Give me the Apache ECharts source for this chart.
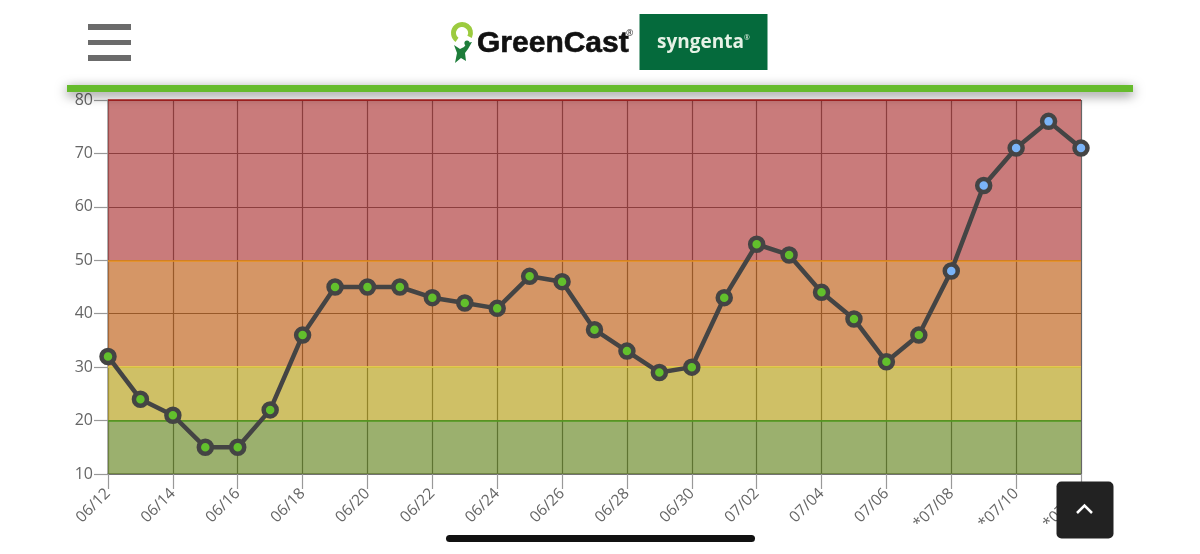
<!DOCTYPE html>
<html>
<head>
<meta charset="utf-8">
<style>html,body{margin:0;padding:0;background:#fff}#c{width:1200px;height:554px}</style>
<script src="https://cdn.jsdelivr.net/npm/echarts@6/dist/echarts.min.js"></script>
</head>
<body>
<div id="c"></div>
<script>
const categories = ['06/12','06/13','06/14','06/15','06/16','06/17','06/18','06/19','06/20','06/21','06/22','06/23','06/24','06/25','06/26','06/27','06/28','06/29','06/30','07/01','07/02','07/03','07/04','07/05','07/06','07/07','*07/08','*07/09','*07/10','*07/11','*07/12'];
const values = [32,24,21,15,15,22,36,45,45,45,43,42,41,47,46,37,33,29,30,43,53,51,44,39,31,36,48,64,71,76,71];
const bandEdges = [10,20,30,50,80];
const bandFills = ['rgba(88,123,13,0.6)','rgba(175,150,0,0.6)','rgba(185,80,0,0.6)','rgba(165,35,35,0.6)'];
const bandLines = ['#4f9a1e','#e8d84a','#e8901e','#b51a1a'];

const chart = echarts.init(document.getElementById('c'), null, {renderer:'canvas'});
const font = '"Open Sans", sans-serif';
const grey = '#666';

const chrome = [
  {type:'rect', z:100, shape:{x:0,y:0,width:1200,height:85}, style:{fill:'#fff'}},
  {type:'rect', z:101, shape:{x:67,y:85,width:1066,height:7}, style:{fill:'#66bb2c', shadowBlur:12, shadowColor:'rgba(0,0,0,0.55)', shadowOffsetY:3}},
  {type:'rect', z:102, shape:{x:88,y:24,width:43,height:6}, style:{fill:'#6b6b6b'}},
  {type:'rect', z:102, shape:{x:88,y:40,width:43,height:5}, style:{fill:'#6b6b6b'}},
  {type:'rect', z:102, shape:{x:88,y:55,width:43,height:6}, style:{fill:'#6b6b6b'}},
  {type:'arc', z:102, shape:{cx:462,cy:33,r:8.5,startAngle:Math.PI*0.7,endAngle:Math.PI*0.15,clockwise:true}, style:{stroke:'#9ccb3f',lineWidth:5,fill:null}},
  {type:'polygon', z:102, shape:{points:[[454,45],[460,49],[464,47],[467,43],[472,42],[468,49],[465,53],[466,61],[461,58],[455,63],[457,53]]}, style:{fill:'#1d7d3a'}},
  {type:'circle', z:102, shape:{cx:467,cy:43,r:2.6}, style:{fill:'#1d7d3a'}},
  {type:'text', z:102, style:{x:477,y:44,text:'GreenCast',font:'bold 30px "Liberation Sans", sans-serif',fill:'#111',stroke:'#111',lineWidth:0.6,verticalAlign:'middle',textAlign:'left'}},
  {type:'text', z:102, style:{x:626,y:33,text:'®',font:'9px "Open Sans", sans-serif',fill:'#333',verticalAlign:'middle',textAlign:'left'}},
  {type:'rect', z:102, shape:{x:639.5,y:14,width:128,height:56}, style:{fill:'#056a3c'}},
  {type:'text', z:103, style:{x:657,y:43,text:'syngenta',font:'700 19px "Open Sans", sans-serif',fill:'#e6f2e6',verticalAlign:'middle',textAlign:'left'}},
  {type:'text', z:103, style:{x:744,y:38,text:'®',font:'7px "Open Sans", sans-serif',fill:'#e6f2e6',verticalAlign:'middle',textAlign:'left'}},
  {type:'rect', z:110, shape:{x:1056.5,y:481.5,width:57,height:57,r:5}, style:{fill:'#222'}},
  {type:'polyline', z:111, shape:{points:[[1077,513],[1084.5,505.5],[1092,513]]}, style:{stroke:'#fff',lineWidth:2.5,fill:null}},
  {type:'rect', z:110, shape:{x:446,y:535,width:309,height:7,r:3.5}, style:{fill:'#111'}}
];

chart.setOption({
  animation:false,
  backgroundColor:'#fff',
  grid:{left:108,right:119,top:100,bottom:80,containLabel:false},
  xAxis:{
    type:'category',data:categories,boundaryGap:false,
    axisLine:{show:true,lineStyle:{color:'#777',width:1.5}},
    axisTick:{show:true,interval:1,length:15,lineStyle:{color:'#999',width:1.2}},
    axisLabel:{interval:1,rotate:45,color:grey,fontFamily:font,fontSize:15.5,margin:17},
    splitLine:{show:true,interval:1,lineStyle:{color:'#666',width:1.2}}
  },
  yAxis:{
    type:'value',min:10,max:80,interval:10,
    axisLine:{show:true,lineStyle:{color:'#999',width:1.5}},
    axisTick:{show:true,length:14,lineStyle:{color:'#999',width:1.2}},
    axisLabel:{color:grey,fontFamily:font,fontSize:16,margin:15,padding:[2,0,0,0]},
    splitLine:{show:true,lineStyle:{color:'#666',width:1.2}}
  },
  series:[{
    type:'line',
    data:values.map((v,i)=>({value:v,itemStyle:{color:categories[i][0]==='*'?'#7ab4f8':'#62c02c',borderColor:'#444',borderWidth:4.5}})),
    clip:false,
    symbol:'circle',symbolSize:13,
    lineStyle:{color:'#444',width:4.5},
    markArea:{silent:true,z:1,data:bandFills.map((f,i)=>[{yAxis:bandEdges[i],itemStyle:{color:f}},{yAxis:bandEdges[i+1]}])},
    markLine:{silent:true,z:1,symbol:'none',label:{show:false},data:bandLines.map((c,i)=>({yAxis:bandEdges[i+1],lineStyle:{color:c,width:1.5,type:'solid'}}))},
    z:5
  }],
  graphic:{elements:chrome}
});
</script>
</body>
</html>
